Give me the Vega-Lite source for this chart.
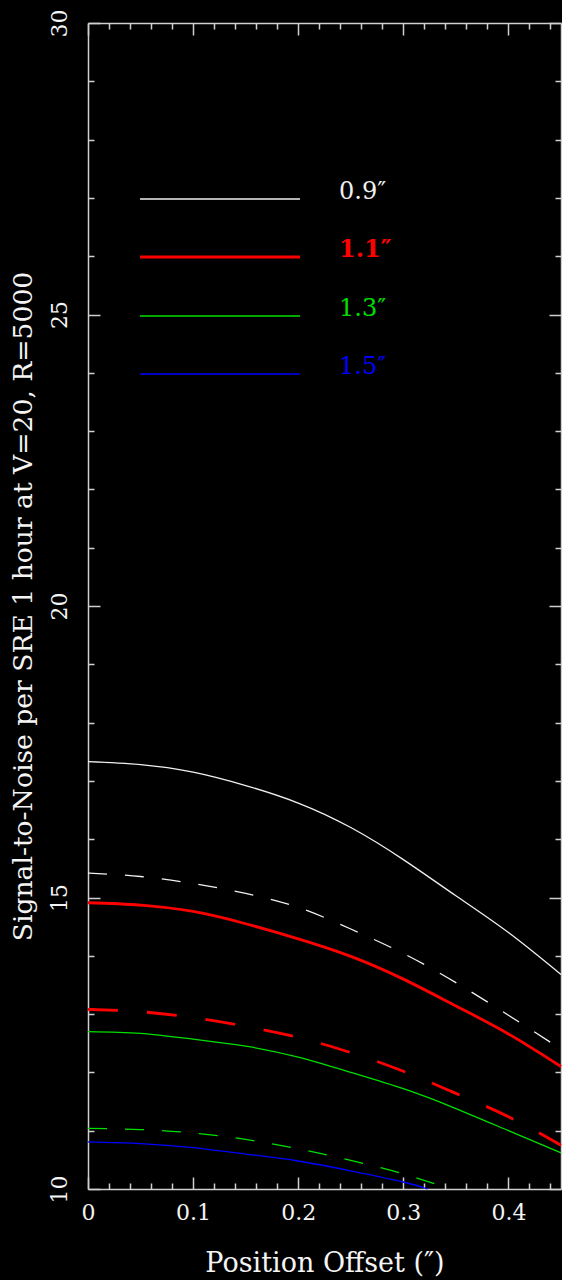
{
  "$schema": "https://vega.github.io/schema/vega-lite/v6.json",
  "background": "#000000",
  "autosize": "none",
  "padding": {"left": 88, "top": 23, "right": 1, "bottom": 91},
  "width": 473,
  "height": 1166,
  "config": {
    "view": {"stroke": null},
    "font": "DejaVu Serif",
    "axis": {
      "domainColor": "#d0d0d0",
      "domainWidth": 1.5,
      "tickColor": "#d0d0d0",
      "tickWidth": 1.5,
      "labelColor": "#f4f4f4",
      "labelFont": "DejaVu Serif",
      "labelFontSize": 22,
      "labelFlush": false,
      "titleColor": "#f4f4f4",
      "titleFont": "DejaVu Serif",
      "titleFontSize": 26,
      "titleFontWeight": "normal",
      "grid": false
    },
    "legend": {
      "labelFont": "DejaVu Serif",
      "labelFontSize": 24
    }
  },
  "data": {
    "values": [
      {"seeing": "0.9″", "curve": "A", "offset": 0, "sn": 17.33},
      {"seeing": "0.9″", "curve": "A", "offset": 0.05, "sn": 17.28},
      {"seeing": "0.9″", "curve": "A", "offset": 0.1, "sn": 17.15},
      {"seeing": "0.9″", "curve": "A", "offset": 0.15, "sn": 16.92},
      {"seeing": "0.9″", "curve": "A", "offset": 0.2, "sn": 16.62},
      {"seeing": "0.9″", "curve": "A", "offset": 0.25, "sn": 16.2},
      {"seeing": "0.9″", "curve": "A", "offset": 0.3, "sn": 15.65},
      {"seeing": "0.9″", "curve": "A", "offset": 0.35, "sn": 15.03},
      {"seeing": "0.9″", "curve": "A", "offset": 0.4, "sn": 14.4},
      {"seeing": "0.9″", "curve": "A", "offset": 0.45, "sn": 13.68},

      {"seeing": "0.9″", "curve": "B", "offset": 0, "sn": 15.42},
      {"seeing": "0.9″", "curve": "B", "offset": 0.05, "sn": 15.36},
      {"seeing": "0.9″", "curve": "B", "offset": 0.1, "sn": 15.24},
      {"seeing": "0.9″", "curve": "B", "offset": 0.15, "sn": 15.07},
      {"seeing": "0.9″", "curve": "B", "offset": 0.2, "sn": 14.83},
      {"seeing": "0.9″", "curve": "B", "offset": 0.25, "sn": 14.46},
      {"seeing": "0.9″", "curve": "B", "offset": 0.3, "sn": 14.04},
      {"seeing": "0.9″", "curve": "B", "offset": 0.35, "sn": 13.54},
      {"seeing": "0.9″", "curve": "B", "offset": 0.4, "sn": 12.98},
      {"seeing": "0.9″", "curve": "B", "offset": 0.45, "sn": 12.4},

      {"seeing": "1.1″", "curve": "A", "offset": 0, "sn": 14.91},
      {"seeing": "1.1″", "curve": "A", "offset": 0.05, "sn": 14.87},
      {"seeing": "1.1″", "curve": "A", "offset": 0.1, "sn": 14.76},
      {"seeing": "1.1″", "curve": "A", "offset": 0.15, "sn": 14.55},
      {"seeing": "1.1″", "curve": "A", "offset": 0.2, "sn": 14.29},
      {"seeing": "1.1″", "curve": "A", "offset": 0.25, "sn": 13.99},
      {"seeing": "1.1″", "curve": "A", "offset": 0.3, "sn": 13.6},
      {"seeing": "1.1″", "curve": "A", "offset": 0.35, "sn": 13.14},
      {"seeing": "1.1″", "curve": "A", "offset": 0.4, "sn": 12.66},
      {"seeing": "1.1″", "curve": "A", "offset": 0.45, "sn": 12.1},

      {"seeing": "1.1″", "curve": "B", "offset": 0, "sn": 13.08},
      {"seeing": "1.1″", "curve": "B", "offset": 0.05, "sn": 13.04},
      {"seeing": "1.1″", "curve": "B", "offset": 0.1, "sn": 12.94},
      {"seeing": "1.1″", "curve": "B", "offset": 0.15, "sn": 12.79},
      {"seeing": "1.1″", "curve": "B", "offset": 0.2, "sn": 12.6},
      {"seeing": "1.1″", "curve": "B", "offset": 0.25, "sn": 12.34},
      {"seeing": "1.1″", "curve": "B", "offset": 0.3, "sn": 12.02},
      {"seeing": "1.1″", "curve": "B", "offset": 0.35, "sn": 11.64},
      {"seeing": "1.1″", "curve": "B", "offset": 0.4, "sn": 11.24},
      {"seeing": "1.1″", "curve": "B", "offset": 0.45, "sn": 10.75},

      {"seeing": "1.3″", "curve": "A", "offset": 0, "sn": 12.7},
      {"seeing": "1.3″", "curve": "A", "offset": 0.05, "sn": 12.67},
      {"seeing": "1.3″", "curve": "A", "offset": 0.1, "sn": 12.57},
      {"seeing": "1.3″", "curve": "A", "offset": 0.15, "sn": 12.45},
      {"seeing": "1.3″", "curve": "A", "offset": 0.2, "sn": 12.26},
      {"seeing": "1.3″", "curve": "A", "offset": 0.25, "sn": 12.0},
      {"seeing": "1.3″", "curve": "A", "offset": 0.3, "sn": 11.72},
      {"seeing": "1.3″", "curve": "A", "offset": 0.35, "sn": 11.38},
      {"seeing": "1.3″", "curve": "A", "offset": 0.4, "sn": 11.0},
      {"seeing": "1.3″", "curve": "A", "offset": 0.45, "sn": 10.62},

      {"seeing": "1.3″", "curve": "B", "offset": 0, "sn": 11.04},
      {"seeing": "1.3″", "curve": "B", "offset": 0.05, "sn": 11.02},
      {"seeing": "1.3″", "curve": "B", "offset": 0.1, "sn": 10.96},
      {"seeing": "1.3″", "curve": "B", "offset": 0.15, "sn": 10.85},
      {"seeing": "1.3″", "curve": "B", "offset": 0.2, "sn": 10.69},
      {"seeing": "1.3″", "curve": "B", "offset": 0.25, "sn": 10.49},
      {"seeing": "1.3″", "curve": "B", "offset": 0.3, "sn": 10.26},
      {"seeing": "1.3″", "curve": "B", "offset": 0.344, "sn": 10.0},

      {"seeing": "1.5″", "curve": "A", "offset": 0, "sn": 10.81},
      {"seeing": "1.5″", "curve": "A", "offset": 0.05, "sn": 10.78},
      {"seeing": "1.5″", "curve": "A", "offset": 0.1, "sn": 10.71},
      {"seeing": "1.5″", "curve": "A", "offset": 0.15, "sn": 10.6},
      {"seeing": "1.5″", "curve": "A", "offset": 0.2, "sn": 10.48},
      {"seeing": "1.5″", "curve": "A", "offset": 0.25, "sn": 10.31},
      {"seeing": "1.5″", "curve": "A", "offset": 0.3, "sn": 10.12},
      {"seeing": "1.5″", "curve": "A", "offset": 0.323, "sn": 10.0}
    ]
  },
  "resolve": {"axis": {"x": "independent", "y": "independent"}},
  "layer": [
    {
      "transform": [{"filter": "datum.curve === 'A' && datum.seeing !== '1.1″'"}],
      "mark": {"type": "line", "interpolate": "natural", "strokeWidth": 1.3},
      "encoding": {
        "x": {
          "field": "offset", "type": "quantitative",
          "scale": {"domain": [0, 0.45], "nice": false, "zero": false},
          "axis": {
            "orient": "bottom", "values": [0, 0.1, 0.2, 0.3, 0.4],
            "tickSize": -12, "labelPadding": 25,
            "labelExpr": "datum.value === 0 ? '0' : format(datum.value, '.1f')",
            "title": "Position Offset (″)", "titlePadding": 27, "titleFontSize": 27
          }
        },
        "y": {
          "field": "sn", "type": "quantitative",
          "scale": {"domain": [10, 30], "nice": false, "zero": false},
          "axis": {
            "orient": "left", "values": [10, 15, 20, 25, 30],
            "tickSize": -12, "labelAngle": -90, "labelPadding": 29,
            "title": "Signal-to-Noise per SRE 1 hour at V=20, R=5000",
            "titlePadding": 11, "titleFontSize": 26.6
          }
        },
        "color": {
          "field": "seeing", "type": "nominal",
          "scale": {
            "domain": ["0.9″", "1.1″", "1.3″", "1.5″"],
            "range": ["#f0f0f0", "#ff0000", "#00e000", "#0000ff"]
          },
          "legend": {
            "title": null,
            "orient": "none",
            "legendX": 40,
            "legendY": 164,
            "padding": 0,
            "symbolType": "M0,0H16",
            "symbolSize": 400,
            "symbolFillColor": "transparent",
            "symbolStrokeWidth": 1.5,
            "rowPadding": 34,
            "labelOffset": 187,
            "labelBaseline": "alphabetic",
            "encode": {
              "labels": {
                "update": {
                  "fill": {"scale": "color", "field": "value"},
                  "fontWeight": {"signal": "datum.value === '1.1″' ? 'bold' : 'normal'"}
                }
              },
              "symbols": {
                "update": {
                  "strokeWidth": {"signal": "datum.value === '1.1″' ? 3 : 1.5"}
                }
              }
            }
          }
        }
      }
    },
    {
      "transform": [{"filter": "datum.curve === 'A' && datum.seeing === '1.1″'"}],
      "mark": {"type": "line", "interpolate": "natural", "strokeWidth": 2.8},
      "encoding": {
        "x": {
          "field": "offset", "type": "quantitative",
          "axis": {
            "orient": "top", "values": [0, 0.1, 0.2, 0.3, 0.4],
            "tickSize": -12, "labels": false, "title": null
          }
        },
        "y": {
          "field": "sn", "type": "quantitative",
          "axis": {
            "orient": "right", "values": [10, 15, 20, 25, 30],
            "tickSize": -12, "labels": false, "title": null
          }
        },
        "color": {"field": "seeing", "type": "nominal"}
      }
    },
    {
      "transform": [{"filter": "datum.curve === 'B' && datum.seeing !== '1.1″'"}],
      "mark": {"type": "line", "interpolate": "natural", "strokeWidth": 1.3, "strokeDash": [19, 18]},
      "encoding": {
        "x": {
          "field": "offset", "type": "quantitative",
          "axis": {
            "orient": "bottom",
            "values": [0.02, 0.04, 0.06, 0.08, 0.12, 0.14, 0.16, 0.18, 0.22, 0.24, 0.26, 0.28, 0.32, 0.34, 0.36, 0.38, 0.42, 0.44],
            "tickSize": -6, "labels": false, "domain": false, "title": null
          }
        },
        "y": {
          "field": "sn", "type": "quantitative",
          "axis": {
            "orient": "left",
            "values": [11, 12, 13, 14, 16, 17, 18, 19, 21, 22, 23, 24, 26, 27, 28, 29],
            "tickSize": -6, "labels": false, "domain": false, "title": null
          }
        },
        "color": {"field": "seeing", "type": "nominal"}
      }
    },
    {
      "transform": [{"filter": "datum.curve === 'B' && datum.seeing === '1.1″'"}],
      "mark": {"type": "line", "interpolate": "natural", "strokeWidth": 2.8, "strokeDash": [30, 29]},
      "encoding": {
        "x": {
          "field": "offset", "type": "quantitative",
          "axis": {
            "orient": "top",
            "values": [0.02, 0.04, 0.06, 0.08, 0.12, 0.14, 0.16, 0.18, 0.22, 0.24, 0.26, 0.28, 0.32, 0.34, 0.36, 0.38, 0.42, 0.44],
            "tickSize": -6, "labels": false, "domain": false, "title": null
          }
        },
        "y": {
          "field": "sn", "type": "quantitative",
          "axis": {
            "orient": "right",
            "values": [11, 12, 13, 14, 16, 17, 18, 19, 21, 22, 23, 24, 26, 27, 28, 29],
            "tickSize": -6, "labels": false, "domain": false, "title": null
          }
        },
        "color": {"field": "seeing", "type": "nominal"}
      }
    }
  ]
}
